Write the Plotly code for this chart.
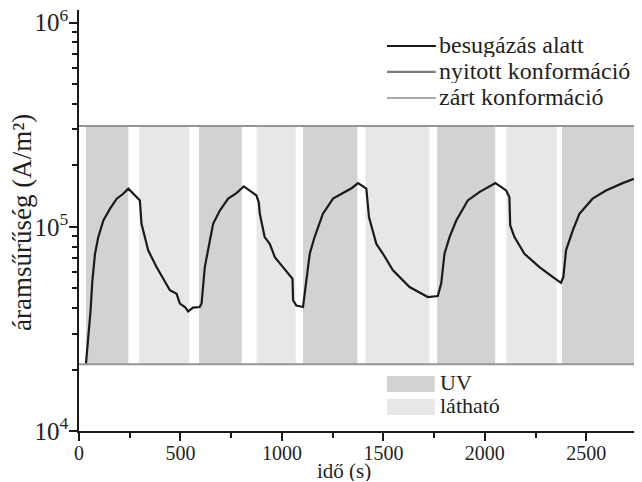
import plotly.graph_objects as go

# time (s) and current density (A/m^2)
t = [34, 57, 66, 79, 95, 120, 153, 186, 218, 243, 292, 300, 308, 341, 382, 448, 481, 497, 522, 538,
     562, 595, 604, 620, 645, 661, 694, 735, 776, 812, 874, 886, 891, 915, 940, 965, 1005, 1052, 1055,
     1071, 1104, 1112, 1121, 1137, 1161, 1202, 1252, 1301, 1345, 1375, 1416, 1429, 1448, 1465, 1498,
     1547, 1629, 1719, 1768, 1785, 1801, 1826, 1859, 1916, 1973, 2052, 2105, 2121, 2125, 2146, 2195,
     2269, 2334, 2375, 2387, 2400, 2433, 2466, 2531, 2597, 2679, 2735]
j = [21200, 38900, 54700, 73800, 89100, 107400, 122700, 137400, 145200, 153800, 137400, 134600,
     103500, 76700, 63500, 48900, 47000, 42100, 40500, 38500, 40200, 40500, 42100, 63500, 85700,
     103500, 120200, 137400, 146200, 157800, 142600, 131800, 115900, 89100, 82600, 71100, 63500,
     55700, 43700, 41200, 40500, 47000, 56800, 73800, 89100, 115900, 137400, 146200, 155000, 163700,
     153800, 111700, 95900, 82600, 73800, 61200, 50700, 45300, 45800, 52700, 73800, 89100, 107400,
     134600, 147900, 163700, 150700, 139600, 101600, 89100, 73800, 63500, 56800, 53200, 56800, 76700,
     95900, 115900, 137400, 150700, 163700, 171800]

# conformation levels
open_level = 312000
closed_level = 21200
t_span = [0, 2735]

# illumination intervals (s)
uv_start = [34, 592, 1104, 1765, 2380]
uv_end = [243, 802, 1372, 2051, 2735]
vis_start = [297, 875, 1412, 2106]
vis_end = [543, 1068, 1727, 2354]

series_names = ["besugázás alatt", "nyitott konformáció", "zárt konformáció"]
band_names = ["UV", "látható"]

UV_COLOR = "#d1d2d4"
VIS_COLOR = "#e6e7e9"
LINE_COLORS = ["#1a1a1a", "#7c7c7c", "#a9a9a9"]
TXT = "#231f20"
FONT = "Liberation Serif"

fig = go.Figure()

for a, b in zip(uv_start, uv_end):
    fig.add_trace(go.Scatter(x=[a, b, b, a, a],
                             y=[closed_level, closed_level, open_level, open_level, closed_level],
                             fill="toself", fillcolor=UV_COLOR, mode="none",
                             showlegend=False, hoverinfo="skip"))
for a, b in zip(vis_start, vis_end):
    fig.add_trace(go.Scatter(x=[a, b, b, a, a],
                             y=[closed_level, closed_level, open_level, open_level, closed_level],
                             fill="toself", fillcolor=VIS_COLOR, mode="none",
                             showlegend=False, hoverinfo="skip"))

fig.add_trace(go.Scatter(x=t, y=j, mode="lines", name=series_names[0], showlegend=False,
                         line=dict(color=LINE_COLORS[0], width=2.2)))
fig.add_trace(go.Scatter(x=t_span, y=[open_level, open_level], mode="lines", name=series_names[1],
                         showlegend=False, line=dict(color="#959595", width=2)))
fig.add_trace(go.Scatter(x=t_span, y=[closed_level, closed_level], mode="lines", name=series_names[2],
                         showlegend=False, line=dict(color="#959595", width=2)))

# legend for the lines (drawn in paper space)
row_y = [0.9145, 0.853, 0.791]
for yy, name, col in zip(row_y, series_names, LINE_COLORS):
    fig.add_shape(type="line", xref="paper", yref="paper", x0=0.555, x1=0.643, y0=yy, y1=yy,
                  line=dict(color=col, width=2.2))
    fig.add_annotation(xref="paper", yref="paper", x=0.647, y=yy + 0.004, text=name,
                       showarrow=False, xanchor="left", yanchor="middle", height=25, borderpad=0,
                       font=dict(family=FONT, size=24, color=TXT))

# legend for illumination bands
box_y = [(0.1306, 0.0926), (0.076, 0.038)]
for (y1, y0), name, col in zip(box_y, band_names, [UV_COLOR, VIS_COLOR]):
    fig.add_shape(type="rect", xref="paper", yref="paper", x0=0.555, x1=0.641, y0=y0, y1=y1,
                  fillcolor=col, line=dict(width=0))
    fig.add_annotation(xref="paper", yref="paper", x=0.648, y=(y0 + y1) / 2 + 0.004, text=name,
                       showarrow=False, xanchor="left", yanchor="middle", height=22, borderpad=0,
                       font=dict(family=FONT, size=22, color=TXT))

# axis titles
fig.add_annotation(xref="paper", yref="paper", x=0.477, y=-0.095, text="idő (s)",
                   showarrow=False, xanchor="center", yanchor="middle", height=21, borderpad=0,
                   font=dict(family=FONT, size=21, color=TXT))
fig.add_annotation(xref="paper", yref="paper", x=-0.103, y=0.496, text="áramsűrűség (A/m²)",
                   showarrow=False, xanchor="center", yanchor="middle", textangle=-90,
                   font=dict(family=FONT, size=27, color=TXT))

fig.update_layout(
    width=642, height=482,
    margin=dict(l=79, r=8, t=10, b=51),
    plot_bgcolor="white", paper_bgcolor="white",
    font=dict(family=FONT, size=20, color=TXT),
    showlegend=False,
    xaxis=dict(range=[0, 2735], showline=True, linecolor="#1a1a1a", linewidth=1.5,
               ticks="outside", ticklen=8, tickwidth=1.5, tickcolor="#1a1a1a",
               dtick=500, tick0=0, showgrid=False, zeroline=False, automargin=False,
               ticklabelstandoff=-5,
               tickfont=dict(family=FONT, size=20, color=TXT),
               minor=dict(ticks="outside", ticklen=5, tickwidth=1.5, tickcolor="#1a1a1a", dtick=250)),
    yaxis=dict(type="log", range=[4, 6.062], showline=True, linecolor="#1a1a1a", linewidth=1.5,
               ticks="outside", ticklen=8, tickwidth=1.5, tickcolor="#1a1a1a",
               dtick=1, exponentformat="power", showgrid=False, zeroline=False, automargin=False,
               ticklabelstandoff=-3, ticklabeloverflow="allow",
               tickfont=dict(family=FONT, size=20, color=TXT),
               minor=dict(ticks="outside", ticklen=5, tickwidth=1.5, tickcolor="#1a1a1a", dtick="D1")),
)

# remove the default page margin so the figure sits at the window's top-left corner
fig.write_html("out.html", config={"displayModeBar": False},
               post_script="document.body.style.margin='0';")
